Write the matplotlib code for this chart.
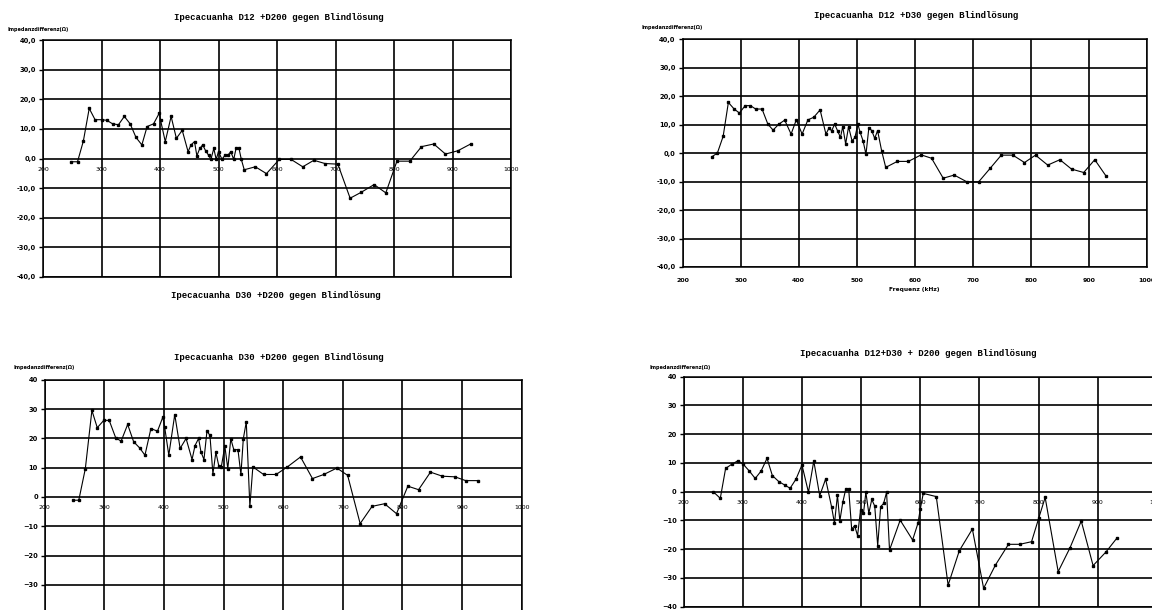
import numpy as np
import matplotlib
matplotlib.use("Agg")
import matplotlib.pyplot as plt
from matplotlib.ticker import FuncFormatter

# Ipecacuanha D12 +D200
f1 = [248, 259, 269, 279, 289, 300, 309, 319, 329, 339, 349, 359, 369, 378, 389,
      399, 401, 409, 419, 428, 438, 448, 453, 459, 463, 468, 473, 478, 483, 487,
      492, 496, 500, 506, 511, 516, 521, 526, 530, 535, 539, 544, 563, 582, 604,
      624, 644, 663, 682, 704, 725, 744, 766, 786, 805, 827, 847, 868, 888, 909, 931]
v1 = [-1.1, -1.1, 5.9, 16.9, 13.1, 13.1, 12.9, 11.7, 11.4, 14.2, 11.7, 7.1, 4.6, 10.8, 11.7,
      15.4, 12.9, 5.7, 14.2, 6.8, 9.5, 2.3, 4.6, 5.7, 0.9, 3.4, 4.6, 2.6, 1.1, -0.3,
      3.4, -0.3, 2.3, -0.3, 1.1, 1.1, 2.3, -0.3, 3.4, 3.4, -0.3, -3.8, -2.8, -5.1, -0.3,
      -0.3, -2.8, -0.6, -1.7, -1.9, -13.4, -11.4, -8.8, -11.6, -0.9, -0.9, 4.0, 4.9, 1.5, 2.6, 4.9]

# Ipecacuanha D12 +D30
f2 = [251, 260, 270, 279, 289, 298, 308, 317, 326, 337, 347, 356, 366, 376, 387,
      396, 406, 416, 426, 437, 447, 452, 457, 462, 467, 472, 476, 481, 486, 492,
      497, 502, 506, 511, 516, 521, 526, 531, 536, 543, 550, 570, 589, 611, 629,
      649, 668, 690, 710, 730, 749, 769, 789, 808, 829, 850, 870, 891, 910, 930]
v2 = [-1.2, 0, 5.9, 17.8, 15.5, 14.1, 16.7, 16.7, 15.5, 15.5, 10.2, 8.1, 10.2, 11.6, 6.7,
      11.7, 6.7, 11.7, 12.6, 15.2, 6.7, 8.7, 7.9, 10.2, 7.9, 5.5, 9.3, 3.2, 9.3, 4.3,
      5.5, 10.2, 7.3, 4.3, -0.4, 9.0, 7.9, 5.2, 7.9, 0.8, -5.0, -2.9, -2.9, -0.6, -1.8,
      -8.8, -7.7, -10.1, -10.1, -5.3, -0.7, -0.7, -3.3, -0.7, -4.2, -2.3, -5.6, -6.8, -2.3, -8.2]

# Ipecacuanha D30 +D200
f3 = [248, 257, 268, 279, 288, 299, 308, 319, 328, 339, 349, 359, 368, 378, 389,
      398, 401, 408, 418, 427, 437, 447, 452, 458, 462, 467, 472, 477, 482, 487,
      492, 496, 502, 507, 512, 517, 524, 529, 533, 538, 544, 549, 567, 588, 607,
      629, 649, 668, 690, 708, 729, 749, 770, 790, 809, 827, 847, 867, 888, 906, 926]
v3 = [-1.1, -1.1, 9.7, 29.6, 23.7, 26.2, 26.2, 20.2, 19.1, 24.8, 18.9, 16.8, 14.3, 23.4, 22.5,
      27.3, 24.0, 14.3, 28.2, 16.6, 20.0, 12.8, 17.6, 20.0, 15.4, 12.8, 22.5, 21.1, 7.9, 15.3,
      10.5, 10.2, 17.4, 9.7, 19.9, 16.2, 16.2, 7.7, 19.9, 25.7, -3.2, 10.3, 7.7, 7.7, 10.3,
      13.7, 6.3, 7.7, 9.9, 7.4, -9.1, -3.2, -2.3, -5.7, 3.7, 2.5, 8.5, 7.1, 6.9, 5.6, 5.6]

# Ipecacuanha D12+D30 + D200
f4 = [250, 262, 271, 281, 292, 301, 311, 321, 331, 341, 350, 361, 371, 380, 390,
      400, 411, 420, 430, 440, 450, 455, 460, 464, 469, 474, 479, 484, 489, 494,
      499, 504, 508, 513, 518, 523, 528, 533, 538, 543, 548, 566, 587, 596, 600,
      605, 627, 647, 666, 688, 707, 727, 749, 768, 788, 800, 811, 833, 853, 872,
      892, 914, 932]
v4 = [0, -2.3, 8.1, 9.5, 10.8, 9.5, 7.2, 4.6, 7.2, 11.6, 5.6, 3.5, 2.3, 1.2, 4.4,
      9.3, -0.2, 10.7, -1.4, 4.4, -5.2, -11.0, -1.2, -10.2, -3.7, 0.9, 0.9, -13.0, -11.8, -15.3,
      -6.4, -7.5, -0.2, -7.5, -2.7, -5.0, -18.8, -5.2, -4.1, -0.2, -20.3, -9.9, -16.8, -11.0, -6.0,
      -0.6, -1.7, -32.5, -20.5, -13.0, -33.6, -25.5, -18.3, -18.3, -17.4, -9.3, -2.0, -27.8, -19.5, -10.2,
      -25.7, -20.9, -16.2]

titles = ["Ipecacuanha D12 +D200 gegen Blindlösung",
          "Ipecacuanha D12 +D30 gegen Blindlösung",
          "Ipecacuanha D30 +D200 gegen Blindlösung",
          "Ipecacuanha D12+D30 + D200 gegen Blindlösung"]
ylabel = "Impedanzdifferenz(Ω)"
xticks = [200, 300, 400, 500, 600, 700, 800, 900, 1000]
yticks = [-40, -30, -20, -10, 0, 10, 20, 30, 40]

W, H = 1152, 610
fig = plt.figure(figsize=(W / 100, H / 100), dpi=100)
fig.patch.set_facecolor("white")

mono = "Liberation Mono"
small = dict(family="DejaVu Sans", weight="bold")

def px_axes(left, right, top, bottom):
    return fig.add_axes([left / W, 1 - bottom / H, (right - left) / W, (bottom - top) / H])

def panel(ax, f, v, comma, xlab_at_zero, yt=yticks):
    ax.plot(f, v, color="black", lw=0.8, marker="s", ms=2.0, mec="black", mfc="black")
    ax.set_xlim(200, 1000)
    ax.set_ylim(-40, 40)
    ax.set_xticks(xticks)
    ax.set_yticks(yt)
    ax.grid(True, color="black", lw=1.2)
    ax.set_axisbelow(True)
    for s in ax.spines.values():
        s.set_color("black")
        s.set_linewidth(1.1)
    if comma:
        ax.yaxis.set_major_formatter(FuncFormatter(lambda y, p: f"{y:.1f}".replace(".", ",")))
    ax.tick_params(axis="y", length=3, width=1, pad=2, labelsize=4.8)
    ax.tick_params(axis="x", length=0, labelsize=4.5)
    for lab in ax.get_yticklabels() + ax.get_xticklabels():
        lab.set_fontweight("bold")
    if xlab_at_zero:
        ax.spines["bottom"].set_position(("data", 0))
        ax.spines["bottom"].set_visible(False)
        ax.tick_params(axis="x", pad=6)
        ax.axhline(-40, color="black", lw=1.2, clip_on=False)
    else:
        ax.tick_params(axis="x", pad=8)

# top-left
ax1 = px_axes(43, 511, 40, 277)
panel(ax1, f1, v1, True, True)
fig.text(279 / W, 1 - 17 / H, titles[0], family=mono, weight="bold", size=6.5, ha="center", va="center")
fig.text(7 / W, 1 - 29 / H, ylabel, size=3.6, ha="left", va="center", **small)
fig.text(276 / W, 1 - 295 / H, titles[2], family=mono, weight="bold", size=6.5, ha="center", va="center")

# top-right
ax2 = px_axes(682.5, 1147, 39.3, 267)
panel(ax2, f2, v2, True, False)
fig.text(916 / W, 1 - 16 / H, titles[1], family=mono, weight="bold", size=6.5, ha="center", va="center")
fig.text(642 / W, 1 - 28 / H, ylabel, size=3.6, ha="left", va="center", **small)
fig.text(914 / W, 1 - 290 / H, "Frequenz (kHz)", size=4.2, ha="center", va="center", **small)

# bottom-left (bottom edge runs off the page, as in the scan)
ax3 = px_axes(44.8, 521.7, 380, 614)
panel(ax3, f3, v3, False, True, yt=yticks[1:])
fig.text(279 / W, 1 - 357 / H, titles[2], family=mono, weight="bold", size=6.5, ha="center", va="center")
fig.text(13 / W, 1 - 368 / H, ylabel, size=3.6, ha="left", va="center", **small)

# bottom-right
ax4 = px_axes(683.6, 1157, 376.7, 606.7)
panel(ax4, f4, v4, False, True)
fig.text(918 / W, 1 - 353 / H, titles[3], family=mono, weight="bold", size=6.5, ha="center", va="center")
fig.text(649 / W, 1 - 367 / H, ylabel, size=3.6, ha="left", va="center", **small)

fig.savefig("out.png", dpi=100, facecolor="white")
